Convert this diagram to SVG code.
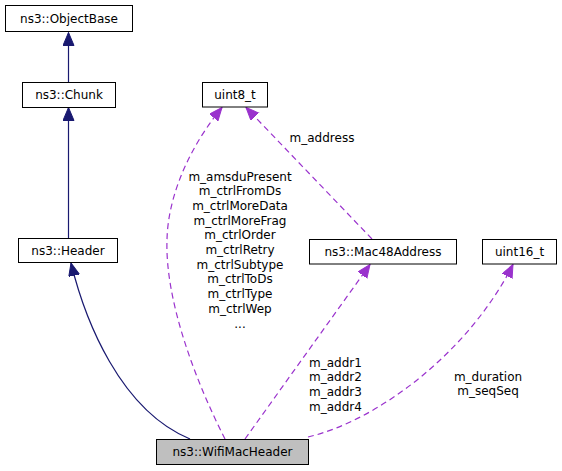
<svg xmlns="http://www.w3.org/2000/svg" width="562" height="471" viewBox="0 0 562 471">
<defs>
<style>
.node rect{fill:#ffffff;stroke:#000000;stroke-width:1}
.node.main rect{fill:#bfbfbf}
text{font-family:"DejaVu Sans","Liberation Sans",sans-serif;font-size:12px;fill:#000000}
.node text{text-anchor:middle}
.lbl{text-anchor:middle}
.inh{fill:none;stroke:#191970;stroke-width:1.2}
.use{fill:none;stroke:#9a32cd;stroke-width:1.2;stroke-dasharray:6,4}
</style>
<marker id="aNavy" markerUnits="userSpaceOnUse" markerWidth="14" markerHeight="12" refX="13" refY="5.5" orient="auto">
<path d="M0,0 L13,5.5 L0,11 Z" fill="#191970" stroke="#191970"/>
</marker>
<marker id="aPurple" markerUnits="userSpaceOnUse" markerWidth="14" markerHeight="12" refX="13" refY="5.5" orient="auto">
<path d="M0,0 L13,5.5 L0,11 Z" fill="#9a32cd" stroke="#9a32cd"/>
</marker>
</defs>
<rect width="562" height="471" fill="#ffffff"/>
<g id="connectors">
<path class="inh" d="M68.5,82 L68.5,32.5" marker-end="url(#aNavy)"/>
<path class="inh" d="M68.5,238 L68.5,107.5" marker-end="url(#aNavy)"/>
<path class="inh" d="M190,439 C120,410 85,320 71,263" marker-end="url(#aNavy)"/>
<path class="use" d="M225,439 C195,380 165,300 167,240 C168,190 195,140 222,107.5" marker-end="url(#aPurple)"/>
<path class="use" d="M372,239 L246,107.5" marker-end="url(#aPurple)"/>
<path class="use" d="M245,439 L370,264.5" marker-end="url(#aPurple)"/>
<path class="use" d="M308,437 C380,420 470,350 513,264.5" marker-end="url(#aPurple)"/>
<text class="lbl" x="240" y="180.5">m_amsduPresent</text>
<text class="lbl" x="240" y="195.2">m_ctrlFromDs</text>
<text class="lbl" x="240" y="209.9">m_ctrlMoreData</text>
<text class="lbl" x="240" y="224.6">m_ctrlMoreFrag</text>
<text class="lbl" x="240" y="239.3">m_ctrlOrder</text>
<text class="lbl" x="240" y="254">m_ctrlRetry</text>
<text class="lbl" x="240" y="268.7">m_ctrlSubtype</text>
<text class="lbl" x="240" y="283.4">m_ctrlToDs</text>
<text class="lbl" x="240" y="298.1">m_ctrlType</text>
<text class="lbl" x="240" y="312.8">m_ctrlWep</text>
<text class="lbl" x="240" y="327.5">...</text>
<text class="lbl" x="322" y="142">m_address</text>
<text class="lbl" x="335.5" y="366.5">m_addr1</text>
<text class="lbl" x="335.5" y="381.2">m_addr2</text>
<text class="lbl" x="335.5" y="395.9">m_addr3</text>
<text class="lbl" x="335.5" y="410.6">m_addr4</text>
<text class="lbl" x="488" y="380.5">m_duration</text>
<text class="lbl" x="488" y="395.2">m_seqSeq</text>
</g>
<g id="node-objectbase" class="node"><rect x="5.5" y="5.5" width="127" height="26"/><text x="69" y="22.5">ns3::ObjectBase</text></g>
<g id="node-chunk" class="node"><rect x="22.5" y="82.5" width="93" height="25"/><text x="69" y="99.3">ns3::Chunk</text></g>
<g id="node-header" class="node"><rect x="18.5" y="238.5" width="99" height="24"/><text x="68" y="254.8">ns3::Header</text></g>
<g id="node-uint8" class="node"><rect x="202.5" y="82.5" width="65" height="24.5"/><text x="235" y="99.3">uint8_t</text></g>
<g id="node-mac48" class="node"><rect x="309.5" y="239.5" width="147" height="24.5"/><text x="383" y="256">ns3::Mac48Address</text></g>
<g id="node-uint16" class="node"><rect x="482.5" y="239.5" width="74" height="24.5"/><text x="519.5" y="256">uint16_t</text></g>
<g id="node-wifimacheader" class="node main"><rect x="156.5" y="439.5" width="152" height="25"/><text x="232.5" y="456.3">ns3::WifiMacHeader</text></g>
</svg>
